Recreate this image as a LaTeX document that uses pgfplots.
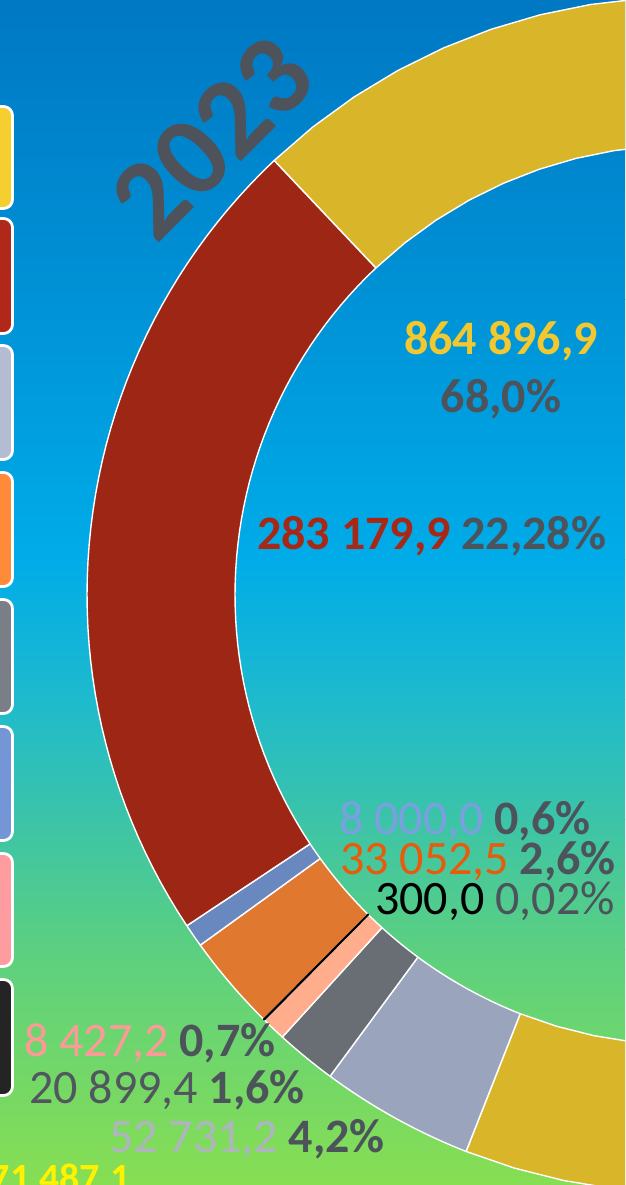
\documentclass[border=0pt]{standalone}
\usepackage{pgfplots}
\pgfplotsset{compat=1.18}
\usepackage{pgfplotstable}
\usepackage{fontspec}
\setmainfont{Carlito}

% slice colours
\definecolor{cYel}{HTML}{D9B52A}
\definecolor{cLgr}{HTML}{9AA5BD}
\definecolor{cDgr}{HTML}{696E75}
\definecolor{cPnk}{HTML}{FFAD8D}
\definecolor{cBlk}{HTML}{000000}
\definecolor{cOrg}{HTML}{E07830}
\definecolor{cBlu}{HTML}{6A88C0}
\definecolor{cRed}{HTML}{9E2614}
% legend box colours
\definecolor{lYel}{HTML}{F5CE30}
\definecolor{lRed}{HTML}{B0281A}
\definecolor{lLgr}{HTML}{B4BCD4}
\definecolor{lOrg}{HTML}{FF8A3A}
\definecolor{lDgr}{HTML}{7A7E86}
\definecolor{lBlu}{HTML}{7496D6}
\definecolor{lPnk}{HTML}{FF9CA0}
\definecolor{lBlk}{HTML}{242424}
% label colours
\definecolor{tYel}{HTML}{F2C830}
\definecolor{tRed}{HTML}{A82818}
\definecolor{tPct}{HTML}{4D535B}
\definecolor{tBlu}{HTML}{7B9FE0}
\definecolor{tOrg}{HTML}{E85A0C}
\definecolor{tPnk}{HTML}{FF9999}
\definecolor{tDgr}{HTML}{52565E}
\definecolor{tLgr}{HTML}{B0B4C0}
\definecolor{tTot}{HTML}{FFF200}
\definecolor{tYear}{HTML}{4E535B}
% background
\definecolor{bg0}{RGB}{0,120,196}
\definecolor{bg1}{RGB}{0,146,214}
\definecolor{bg2}{RGB}{0,172,232}
\definecolor{bg3}{RGB}{30,186,205}
\definecolor{bg4}{RGB}{60,196,168}
\definecolor{bg5}{RGB}{92,208,128}
\definecolor{bg6}{RGB}{135,222,82}

% values in donut order (clockwise from the start angle)
\pgfplotstableread{
value col
864896.9 cYel
52731.2 cLgr
20899.4 cDgr
8427.2 cPnk
300.0 cBlk
33052.5 cOrg
8000.0 cBlu
283179.9 cRed
}\slices

\newcommand\startangle{133.4}

\begin{document}
\xdef\total{0}%
\pgfplotsforeachungrouped \i in {0,...,7}{%
  \pgfplotstablegetelem{\i}{value}\of\slices
  \xdef\total{\fpeval{\total+\pgfplotsretval}}}%
\xdef\cum{0}%
\pgfplotsforeachungrouped \i in {0,...,7}{%
  \pgfplotstablegetelem{\i}{value}\of\slices
  \expandafter\xdef\csname sa\i\endcsname{\fpeval{round(\startangle-\cum*360/\total,4)}}%
  \xdef\cum{\fpeval{\cum+\pgfplotsretval}}%
  \expandafter\xdef\csname sb\i\endcsname{\fpeval{round(\startangle-\cum*360/\total,4)}}}%
\newcommand\drawslice[1]{%
  \pgfplotstablegetelem{#1}{col}\of\slices
  \edef\c{\pgfplotsretval}%
  \edef\a{\csname sa#1\endcsname}%
  \edef\b{\csname sb#1\endcsname}%
  \edef\tmp{\noexpand\addplot[fill=\c, draw=\ifnum#1=4 black\else white\fi, line width=1.4pt, line join=round, samples at={0,...,102}]
   ({ifthenelse(\noexpand\x<50.5, 685+598*cos((\a)+((\b)-(\a))*\noexpand\x/50), ifthenelse(\noexpand\x<101.5, 685+450*cos((\b)-((\b)-(\a))*(\noexpand\x-51)/50), 685+598*cos(\a)))},
    {ifthenelse(\noexpand\x<50.5, 590+598*sin((\a)+((\b)-(\a))*\noexpand\x/50), ifthenelse(\noexpand\x<101.5, 590+450*sin((\b)-((\b)-(\a))*(\noexpand\x-51)/50), 590+598*sin(\a)))});}%
  \tmp}%
\begin{tikzpicture}[x=1pt,y=1pt]
\useasboundingbox (0,0) rectangle (625,1185);
\clip (0,0) rectangle (625,1185);
% background gradient (image y: 0,300,560,700,820,950,1185)
\fill[top color=bg0, bottom color=bg1] (0,885) rectangle (625,1185);
\fill[top color=bg1, bottom color=bg2] (0,625) rectangle (625,885.5);
\fill[top color=bg2, bottom color=bg3] (0,485) rectangle (625,625.5);
\fill[top color=bg3, bottom color=bg4] (0,365) rectangle (625,485.5);
\fill[top color=bg4, bottom color=bg5] (0,235) rectangle (625,365.5);
\fill[top color=bg5, bottom color=bg6] (0,0) rectangle (625,235.5);
\begin{axis}[at={(0,0)}, anchor=south west, scale only axis,
  width=625pt, height=1185pt, xmin=0, xmax=625, ymin=0, ymax=1185,
  hide axis, clip=true]
\drawslice{0}\drawslice{1}\drawslice{2}\drawslice{3}%
\drawslice{5}\drawslice{6}\drawslice{7}\drawslice{4}%
\end{axis}
% legend boxes
\foreach \yt/\yb/\c in {106.5/208.5/lYel, 218.5/333.5/lRed, 345.5/459.5/lLgr, 472.5/586.5/lOrg, 599.5/713.5/lDgr, 726.5/840.5/lBlu, 853.5/966.5/lPnk, 979.5/1095.5/lBlk}
  \draw[white, line width=2.8pt, fill=\c, rounded corners=9pt] (-40,1185-\yt) rectangle (12.5,1185-\yb);
% labels
\fontsize{48}{50}\selectfont
\node[anchor=base, inner sep=0, text=tYel] at (501,1185-355) {\bfseries 864 896,9};
\node[anchor=base, inner sep=0, text=tPct] at (501,1185-413) {\bfseries 68,0\%};
\node[anchor=base west, inner sep=0] at (257,1185-550) {\bfseries\textcolor{tRed}{283 179,9} \textcolor{tPct}{22,28\%}};
\node[anchor=base west, inner sep=0] at (339,1185-835) {\textcolor{tBlu}{8 000,0} \textcolor{tPct}{\bfseries 0,6\%}};
\node[anchor=base west, inner sep=0] at (340,1185-875) {\textcolor{tOrg}{33 052,5} \textcolor{tPct}{\bfseries 2,6\%}};
\node[anchor=base west, inner sep=0] at (375,1185-915) {\textcolor{black}{300,0} \textcolor{tPct}{0,02\%}};
\node[anchor=base west, inner sep=0] at (24,1185-1057) {\textcolor{tPnk}{8 427,2} \textcolor{tPct}{\bfseries 0,7\%}};
\node[anchor=base west, inner sep=0] at (29,1185-1104) {\textcolor{tDgr}{20 899,4} \textcolor{tPct}{\bfseries 1,6\%}};
\node[anchor=base west, inner sep=0] at (109,1185-1153) {\textcolor{tLgr}{52 731,2} \textcolor{tPct}{\bfseries 4,2\%}};
\node[anchor=base east, inner sep=0, text=tTot] at (131,1185-1191) {\fontsize{40}{44}\selectfont\bfseries 1 271 487,1};
\node[rotate=45, inner sep=0, text=tYear] at (212,1185-138) {\fontsize{114}{118}\selectfont\bfseries 2023};
\end{tikzpicture}
\end{document}
